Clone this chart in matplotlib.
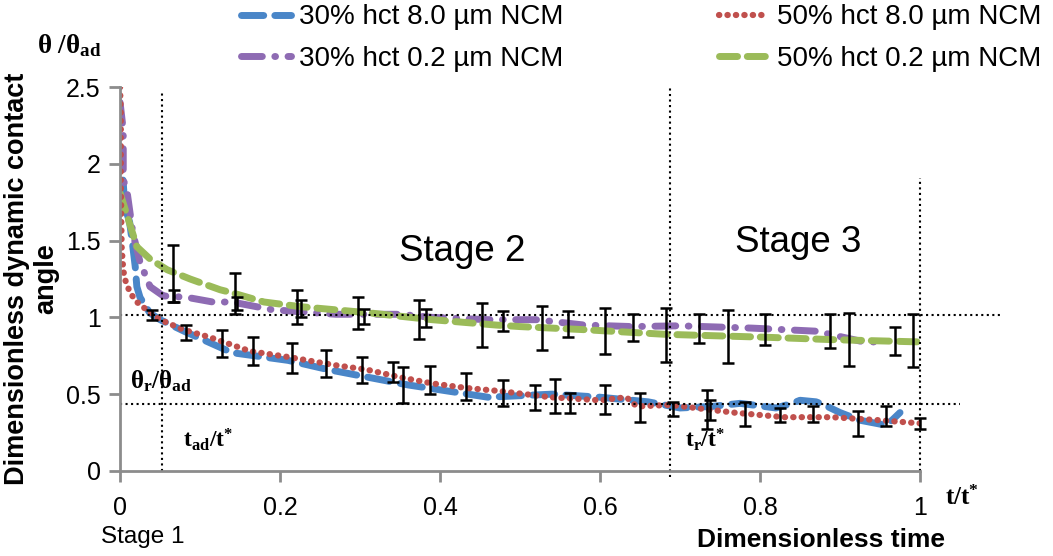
import matplotlib
matplotlib.use("Agg")
import matplotlib.pyplot as plt
import numpy as np

# series (t/t*, theta/theta_ad)
blue_x = [0.0, 0.002, 0.006, 0.012, 0.016, 0.019, 0.021, 0.025, 0.037, 0.05, 0.08, 0.14, 0.21, 0.26,
          0.31, 0.36, 0.41, 0.46, 0.54, 0.60, 0.66, 0.70, 0.74, 0.775, 0.82, 0.84, 0.85, 0.87, 0.88,
          0.90, 0.925, 0.955, 0.965, 0.975]
blue_y = [2.11, 2.03, 1.72, 1.62, 1.46, 1.33, 1.20, 1.13, 1.03, 0.985, 0.91, 0.77, 0.72, 0.66,
          0.61, 0.56, 0.52, 0.48, 0.50, 0.48, 0.45, 0.41, 0.42, 0.44, 0.41, 0.44, 0.46, 0.45, 0.43,
          0.38, 0.33, 0.30, 0.33, 0.38]

red_x = [0.0, 0.001, 0.001, 0.001, 0.0015, 0.002, 0.004, 0.006, 0.0125, 0.021, 0.033, 0.05, 0.079,
         0.1125, 0.1625, 0.2125, 0.267, 0.308, 0.35, 0.39, 0.433, 0.475, 0.5375, 0.6, 0.633, 0.646,
         0.6875, 0.767, 0.83, 0.89, 0.95, 1.0]
red_y = [2.5, 2.33, 2.16, 1.90, 1.68, 1.46, 1.31, 1.25, 1.16, 1.10, 1.05, 0.985, 0.92,
         0.87, 0.78, 0.74, 0.69, 0.66, 0.61, 0.57, 0.54, 0.52, 0.48, 0.46, 0.48, 0.42,
         0.43, 0.38, 0.35, 0.35, 0.33, 0.31]

purple_x = [0.0, 0.004, 0.004, 0.004, 0.009, 0.016, 0.025, 0.0375, 0.054, 0.084, 0.116, 0.14, 0.19,
            0.27, 0.35, 0.39, 0.46, 0.52, 0.58, 0.64, 0.70, 0.79, 0.87, 0.93, 0.95]
purple_y = [2.40, 2.22, 2.05, 1.90, 1.81, 1.55, 1.36, 1.20, 1.14, 1.13, 1.10, 1.10, 1.05,
            1.02, 1.02, 1.00, 0.985, 0.985, 0.95, 0.94, 0.945, 0.93, 0.91, 0.84, 0.84]

green_x = [0.0, 0.009, 0.021, 0.0375, 0.059, 0.0875, 0.125, 0.14, 0.18, 0.225, 0.31, 0.39, 0.47,
           0.50, 0.58, 0.68, 0.81, 0.89, 1.0]
green_y = [1.81, 1.66, 1.46, 1.38, 1.31, 1.25, 1.18, 1.16, 1.10, 1.07, 1.03, 0.985, 0.95,
           0.94, 0.92, 0.89, 0.87, 0.855, 0.84]

# error bars: x, top and bottom of each bar
err_x = [0.066, 0.068, 0.144, 0.146, 0.221, 0.226, 0.2975, 0.305, 0.374, 0.383, 0.452, 0.479, 0.527,
         0.56, 0.606, 0.641, 0.682, 0.724, 0.76, 0.806, 0.8875, 0.911, 0.969, 0.991,
         0.0396, 0.083, 0.127, 0.166, 0.215, 0.258, 0.302, 0.341, 0.354, 0.388, 0.4325, 0.479,
         0.519, 0.544, 0.5625, 0.606, 0.65, 0.691, 0.734, 0.737, 0.781, 0.825, 0.866, 0.922,
         0.957, 1.0]
err_top = [1.47, 1.175, 1.29, 1.13, 1.175, 1.11, 1.135, 1.055, 1.11, 1.055, 1.095, 1.04, 1.075,
           1.04, 1.06, 1.025, 1.06, 1.025, 1.045, 1.02, 1.02, 1.03, 0.94, 1.025,
           1.05, 0.95, 0.92, 0.87, 0.835, 0.785, 0.74, 0.71, 0.68, 0.685, 0.64, 0.59,
           0.56, 0.60, 0.51, 0.56, 0.51, 0.45, 0.525, 0.46, 0.45, 0.41, 0.42, 0.39,
           0.425, 0.345]
err_bot = [1.10, 1.10, 1.02, 1.05, 0.96, 1.00, 0.925, 0.96, 0.86, 0.94, 0.81, 0.91, 0.785,
           0.87, 0.76, 0.845, 0.71, 0.835, 0.705, 0.82, 0.80, 0.685, 0.755, 0.68,
           0.985, 0.855, 0.745, 0.69, 0.64, 0.61, 0.57, 0.58, 0.44, 0.50, 0.46, 0.42,
           0.40, 0.38, 0.38, 0.37, 0.32, 0.355, 0.27, 0.33, 0.29, 0.32, 0.32, 0.225,
           0.29, 0.27]

x_ticks = [0, 0.2, 0.4, 0.6, 0.8, 1]
x_ticklabels = ["0", "0.2", "0.4", "0.6", "0.8", "1"]
y_ticks = [0, 0.5, 1, 1.5, 2, 2.5]
y_ticklabels = ["0", "0.5", "1", "1.5", "2", "2.5"]

plt.rcParams['font.family'] = ['Liberation Sans', 'DejaVu Sans']
plt.rcParams['mathtext.fontset'] = 'custom'
plt.rcParams['mathtext.rm'] = 'Liberation Serif:bold'
plt.rcParams['mathtext.it'] = 'Liberation Serif:bold'
plt.rcParams['mathtext.bf'] = 'Liberation Serif:bold'

fig = plt.figure(figsize=(10.53, 5.56), dpi=100)
ax = fig.add_axes([0.114, 0.153, 0.7597, 0.6905])

l_blue, = ax.plot(blue_x, blue_y, color='#4a86c8', lw=5, dashes=(3.2, 1.6), solid_capstyle='round',
                  dash_capstyle='round', label='30% hct 8.0 µm NCM')
l_purple, = ax.plot(purple_x, purple_y, color='#8e6bb3', lw=5, dashes=(3.0, 1.8, 0.1, 1.8),
                    dash_capstyle='round', label='30% hct 0.2 µm NCM')
l_green, = ax.plot(green_x, green_y, color='#9bbb59', lw=5, dashes=(2.6, 1.4),
                   dash_capstyle='round', label='50% hct 0.2 µm NCM')
l_red, = ax.plot(red_x, red_y, color='#c0504d', lw=4.5, dashes=(0.05, 1.3),
                 dash_capstyle='round', label='50% hct 8.0 µm NCM')

err_y = [(t + b) / 2 for t, b in zip(err_top, err_bot)]
err_e = [(t - b) / 2 for t, b in zip(err_top, err_bot)]
ax.errorbar(err_x, err_y, yerr=err_e, fmt='none', ecolor='black', elinewidth=1.8,
            capsize=4.5, capthick=1.8, clip_on=False, zorder=5)

# stage boundaries and reference levels
ax.plot([0.0525, 0.0525], [0, 2.46], ls=':', color='black', lw=1.5, clip_on=False)
ax.plot([0.6875, 0.6875], [-0.04, 2.5], ls=':', color='black', lw=1.5, clip_on=False)
ax.plot([1.0, 1.0], [0, 1.91], ls=':', color='black', lw=1.5, clip_on=False)
ax.plot([0, 1.1], [1.018, 1.018], ls=':', color='black', lw=1.5, clip_on=False)
ax.plot([0, 1.05], [0.437, 0.437], ls=':', color='black', lw=1.5, clip_on=False)

ax.set_xlim(0, 1)
ax.set_ylim(0, 2.5)
ax.set_xticks(x_ticks)
ax.set_xticklabels(x_ticklabels)
ax.set_yticks(y_ticks)
ax.set_yticklabels(y_ticklabels)
for s in ['top', 'right']:
    ax.spines[s].set_visible(False)
for s in ['left', 'bottom']:
    ax.spines[s].set_color('#8c8c8c')
    ax.spines[s].set_linewidth(2)
ax.tick_params(direction='out', colors='#8c8c8c', width=2, length=8, labelsize=18, labelcolor='black')
ax.tick_params(axis='y', pad=6)
ax.tick_params(axis='x', pad=10)

ax.set_ylabel('Dimensionless dynamic contact\nangle', fontsize=19.5, fontweight='bold',
              linespacing=1.2)
ax.yaxis.set_label_coords(-0.0755, 0.5)

ax.text(0.4275, 1.43, 'Stage 2', fontsize=26.5, ha='center', va='center')
ax.text(0.8475, 1.49, 'Stage 3', fontsize=26.5, ha='center', va='center')
serif = dict(family='Liberation Serif', fontweight='bold')
ax.text(0.012, 0.5, 'θ$_{\\mathrm{r}}$/θ$_{\\mathrm{ad}}$', ha='left', va='bottom', fontsize=18, **serif)
ax.text(0.079, 0.12, 't$_{\\mathrm{ad}}$/t$^{*}$', ha='left', va='bottom', fontsize=17, **serif)
ax.text(0.706, 0.12, 't$_{\\mathrm{r}}$/t$^{*}$', ha='left', va='bottom', fontsize=17, **serif)
fig.text(0.897, 0.105, 't/t$^{*}$', ha='left', va='center', fontsize=18, **serif)
fig.text(0.066, 0.918, 'θ /θ$_{\\mathrm{ad}}$', ha='center', va='center', fontsize=19.5, **serif)
fig.text(0.136, 0.034, 'Stage 1', fontsize=17.5, ha='center', va='center')
fig.text(0.78, 0.028, 'Dimensionless time', fontsize=19, fontweight='bold', ha='center', va='center')

fig.legend([l_blue, l_purple, l_red, l_green],
           [l_blue.get_label(), l_purple.get_label(), l_red.get_label(), l_green.get_label()],
           ncol=2, loc='upper left', bbox_to_anchor=(0.205, 1.037), frameon=False, fontsize=20,
           handlelength=1.8, handletextpad=0.3, columnspacing=5.6, labelspacing=0.55)

fig.savefig('out.png', dpi=100)
